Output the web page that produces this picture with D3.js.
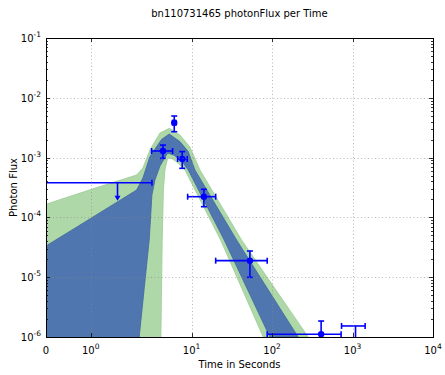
<!DOCTYPE html>
<html>
<head>
<meta charset="utf-8">
<script src="https://cdn.jsdelivr.net/npm/d3@7"></script>
<style>
  body { margin: 0; background: #fff; }
  text { font-family: "DejaVu Sans", sans-serif; fill: #000; }
</style>
</head>
<body>
<div id="chart"></div>
<script>
// model bands: time (s) and photon flux along each edge
const outerHiT = [0, 1.0, 2.07, 2.48, 3.03, 4.04, 5.27, 7.15, 9.52, 12.7, 41.8, 281];
const outerHi = [1.66e-4, 2.92e-4, 5.12e-4, 6.70e-4, 1.34e-3, 2.58e-3, 3.09e-3, 2.39e-3, 1.50e-3, 6.21e-4, 4.19e-5, 1e-6];
const outerLoT = [0, 4.15, 4.31, 4.46, 4.66, 5.03, 5.69, 6.76, 8.25, 22.9, 77.5];
const outerLo = [1e-7, 1e-6, 4.19e-5, 2.87e-4, 6.21e-4, 9.85e-4, 9.66e-4, 8.12e-4, 6.21e-4, 4.19e-5, 1e-6];
const innerHiT = [0, 1.0, 2.07, 2.48, 3.03, 4.24, 5.27, 7.15, 9.07, 11.0, 36.2, 211];
const innerHi = [3.33e-5, 9.62e-5, 2.87e-4, 4.56e-4, 1.04e-3, 2.02e-3, 2.48e-3, 1.85e-3, 1.26e-3, 6.21e-4, 4.19e-5, 1e-6];
const innerLoT = [0, 2.23, 2.97, 3.21, 3.50, 4.04, 5.03, 6.02, 7.36, 9.07, 25.4, 93.9];
const innerLo = [1e-7, 1e-6, 4.19e-5, 2.37e-4, 4.22e-4, 7.24e-4, 1.19e-3, 1.10e-3, 9.12e-4, 6.21e-4, 4.19e-5, 1e-6];

// measured points
const binStart = [3.18, 5.80, 6.70, 8.92, 19.9, 86.9];
const binEnd = [5.80, 6.38, 8.81, 19.9, 86.9, 721];
const binMid = [4.40, 6.08, 7.64, 14.2, 53.0, 407];
const flux = [1.29e-3, 3.84e-3, 9.48e-4, 2.22e-4, 1.89e-5, 1.11e-6];
const fluxHi = [1.62e-3, 4.96e-3, 1.26e-3, 2.95e-4, 2.74e-5, 1.85e-6];
const fluxLo = [9.73e-4, 2.71e-3, 6.62e-4, 1.51e-4, 9.96e-6, 5e-7];

// upper limits
const ulStart = [0, 730];
const ulEnd = [3.21, 1434];
const ulMid = [1.60, 1089];
const ulFlux = [3.80e-4, 1.53e-6];

const xTicks = [0, 1, 10, 100, 1000, 10000];
const xTickExp = ["", "0", "1", "2", "3", "4"];
const yTicks = [1e-6, 1e-5, 1e-4, 1e-3, 1e-2, 1e-1];

const W = 445, H = 375;
const margin = { top: 38, right: 12, bottom: 38, left: 46 };
const width = W - margin.left - margin.right;
const height = H - margin.top - margin.bottom;

// symmetric log, linear below 2 s
const linThresh = 2, linScale = 1 / (1 - 1 / 10);
function symT(t) {
  return t <= linThresh ? t / linThresh * linScale : linScale + Math.log10(t / linThresh);
}
const xs = d3.scaleLinear().domain([symT(0), symT(1e4)]).range([0, width]);
const x = t => xs(symT(t));
const y = d3.scaleLog().domain([1e-6, 1e-1]).range([height, 0]);

const svg = d3.select("#chart").append("svg")
  .attr("width", W).attr("height", H);

svg.append("defs").append("clipPath").attr("id", "plotclip")
  .append("rect").attr("width", width).attr("height", height);

const g = svg.append("g")
  .attr("transform", "translate(" + margin.left + "," + margin.top + ")");
const plot = g.append("g").attr("clip-path", "url(#plotclip)");

function band(hiT, hi, loT, lo) {
  const pts = hiT.map((t, i) => [x(t), y(hi[i])]);
  for (let i = loT.length - 1; i >= 0; i--) pts.push([x(loT[i]), y(lo[i])]);
  return d3.line()(pts) + "Z";
}

plot.append("path")
  .attr("d", band(outerHiT, outerHi, outerLoT, outerLo))
  .attr("fill", "#afd8a9").attr("stroke", "#9ccc96").attr("stroke-width", 0.8);
plot.append("path")
  .attr("d", band(innerHiT, innerHi, innerLoT, innerLo))
  .attr("fill", "#4f76af").attr("stroke", "#41679f").attr("stroke-width", 0.8);

// grid
const grid = g.append("g").attr("stroke", "#888").attr("stroke-width", 0.6)
  .attr("stroke-dasharray", "1,2.5");
xTicks.slice(1, -1).forEach(t => {
  grid.append("line").attr("x1", Math.round(x(t)) + 0.5).attr("x2", Math.round(x(t)) + 0.5)
    .attr("y1", 0).attr("y2", height);
});
yTicks.slice(1, -1).forEach(v => {
  grid.append("line").attr("y1", Math.round(y(v)) + 0.5).attr("y2", Math.round(y(v)) + 0.5)
    .attr("x1", 0).attr("x2", width);
});

// error bars
const blue = "#0000ff";
const eb = plot.append("g").attr("stroke", blue).attr("stroke-width", 1.6).attr("fill", "none");
const cap = 3;
binMid.forEach((t, i) => {
  const cx = x(t), cy = y(flux[i]);
  const x0 = x(binStart[i]), x1 = x(binEnd[i]);
  const y0 = y(fluxHi[i]), y1 = y(fluxLo[i]);
  eb.append("line").attr("x1", x0).attr("x2", x1).attr("y1", cy).attr("y2", cy);
  eb.append("line").attr("x1", cx).attr("x2", cx).attr("y1", y0).attr("y2", y1);
  [x0, x1].forEach(xx => eb.append("line").attr("x1", xx).attr("x2", xx)
    .attr("y1", cy - cap).attr("y2", cy + cap));
  [y0, y1].forEach(yy => eb.append("line").attr("x1", cx - cap).attr("x2", cx + cap)
    .attr("y1", yy).attr("y2", yy));
  plot.append("circle").attr("cx", cx).attr("cy", cy).attr("r", 3.2).attr("fill", blue);
});

ulMid.forEach((t, i) => {
  const cx = x(t), cy = y(ulFlux[i]);
  const x0 = x(ulStart[i]), x1 = x(ulEnd[i]);
  const tip = y(ulFlux[i] / 2);
  eb.append("line").attr("x1", x0).attr("x2", x1).attr("y1", cy).attr("y2", cy);
  [x0, x1].forEach(xx => eb.append("line").attr("x1", xx).attr("x2", xx)
    .attr("y1", cy - cap).attr("y2", cy + cap));
  eb.append("line").attr("x1", cx).attr("x2", cx).attr("y1", cy).attr("y2", tip - 3);
  plot.append("path")
    .attr("d", d3.line()([[cx - 3, tip - 5], [cx + 3, tip - 5], [cx, tip]]) + "Z")
    .attr("fill", blue);
});

// frame and ticks
g.append("rect").attr("x", 0.5).attr("y", 0.5).attr("width", width).attr("height", height)
  .attr("fill", "none").attr("stroke", "#000").attr("stroke-width", 1);

const ticks = g.append("g").attr("stroke", "#000").attr("stroke-width", 0.8);
xTicks.forEach(t => {
  const px = Math.round(x(t)) + 0.5;
  ticks.append("line").attr("x1", px).attr("x2", px).attr("y1", height).attr("y2", height - 4);
  ticks.append("line").attr("x1", px).attr("x2", px).attr("y1", 0).attr("y2", 4);
});
yTicks.forEach(v => {
  const py = Math.round(y(v)) + 0.5;
  ticks.append("line").attr("x1", 0).attr("x2", 4).attr("y1", py).attr("y2", py);
  ticks.append("line").attr("x1", width).attr("x2", width - 4).attr("y1", py).attr("y2", py);
});
yTicks.slice(0, -1).forEach(v => {
  for (let k = 2; k <= 9; k++) {
    const py = Math.round(y(v * k)) + 0.5;
    ticks.append("line").attr("x1", 0).attr("x2", 2).attr("y1", py).attr("y2", py);
    ticks.append("line").attr("x1", width).attr("x2", width - 2).attr("y1", py).attr("y2", py);
  }
});

// tick labels
xTicks.forEach((t, i) => {
  const tx = g.append("text").attr("x", x(t)).attr("y", height + 17)
    .attr("text-anchor", "middle").attr("font-size", 10);
  if (xTickExp[i] === "") { tx.text("0"); return; }
  tx.append("tspan").text("10");
  tx.append("tspan").attr("dy", -5).attr("font-size", 7.5).text(xTickExp[i]);
});
yTicks.forEach(v => {
  const e = Math.round(Math.log10(v));
  const tx = g.append("text").attr("x", -5).attr("y", y(v) + 4)
    .attr("text-anchor", "end").attr("font-size", 10);
  tx.append("tspan").text("10");
  tx.append("tspan").attr("dy", -5).attr("font-size", 7.5).text(String(e));
});

// titles
svg.append("text").attr("x", margin.left + width / 2).attr("y", 17)
  .attr("text-anchor", "middle").attr("font-size", 10)
  .text("bn110731465 photonFlux per Time");
svg.append("text").attr("x", margin.left + width / 2).attr("y", 368)
  .attr("text-anchor", "middle").attr("font-size", 10)
  .text("Time in Seconds");
svg.append("text").attr("transform", "translate(17," + (margin.top + height / 2) + ") rotate(-90)")
  .attr("text-anchor", "middle").attr("font-size", 10)
  .text("Photon Flux");
</script>
</body>
</html>
